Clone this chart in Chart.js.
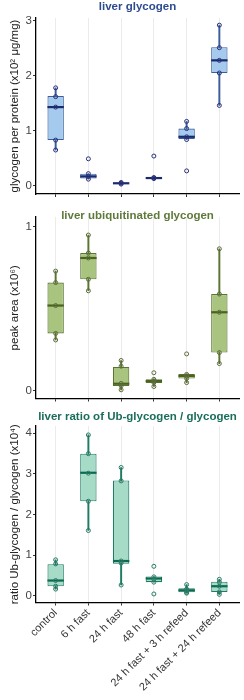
<!DOCTYPE html>
<html>
<head>
<meta charset="utf-8">
<script src="https://cdn.jsdelivr.net/npm/chart.js@4.4.1/dist/chart.umd.min.js"></script>
<style>
  body { margin: 0; background: #fff; }
  .panel { position: absolute; left: 0; width: 244px; }
</style>
</head>
<body>
<div class="panel" style="top:0"><canvas id="chart1" width="244" height="205"></canvas></div>
<div class="panel" style="top:205px"><canvas id="chart2" width="244" height="205"></canvas></div>
<div class="panel" style="top:410px"><canvas id="chart3" width="244" height="290"></canvas></div>
<script>
'use strict';
// categories along the x axis
const categories = ['control', '6 h fast', '24 h fast', '48 h fast', '24 h fast + 3 h refeed', '24 h fast + 24 h refeed'];

// liver glycogen (x10^2 ug/mg)
const glycogenLow = [0.65, 0.12, 0.03, 0.13, 0.84, 1.46];
const glycogenQ1 = [0.83, 0.13, 0.035, 0.13, 0.85, 2.05];
const glycogenMedian = [1.43, 0.17, 0.045, 0.14, 0.89, 2.28];
const glycogenQ3 = [1.63, 0.22, 0.055, 0.15, 1.04, 2.52];
const glycogenHigh = [1.78, 0.22, 0.06, 0.15, 1.17, 2.92];
const glycogenPoints = [
  [1.78, 1.62, 1.43, 0.83, 0.65],
  [0.49, 0.22, 0.17, 0.12],
  [0.06, 0.045, 0.03],
  [0.54, 0.15, 0.14, 0.13],
  [1.17, 1.04, 0.89, 0.84, 0.27],
  [2.92, 2.51, 2.28, 2.05, 1.46]
];
const glycogenTicks = [0, 1, 2, 3];

// liver ubiquitinated glycogen (x10^6)
const ubLow = [0.31, 0.61, 0.006, 0.026, 0.05, 0.166];
const ubQ1 = [0.35, 0.68, 0.03, 0.047, 0.075, 0.233];
const ubMedian = [0.52, 0.81, 0.043, 0.059, 0.091, 0.479];
const ubQ3 = [0.66, 0.84, 0.145, 0.071, 0.103, 0.59];
const ubHigh = [0.73, 0.95, 0.185, 0.071, 0.103, 0.866];
const ubPoints = [
  [0.73, 0.66, 0.52, 0.35, 0.31],
  [0.95, 0.84, 0.81, 0.68, 0.61],
  [0.185, 0.15, 0.045, 0.03, 0.006],
  [0.11, 0.07, 0.06, 0.05, 0.026],
  [0.225, 0.10, 0.09, 0.075, 0.05],
  [0.866, 0.59, 0.479, 0.233, 0.166]
];
const ubTicks = [0, 1];

// ratio Ub-glycogen / glycogen (x10^4)
const ratioLow = [0.17, 1.61, 0.27, 0.34, 0.07, 0.04];
const ratioQ1 = [0.24, 2.33, 0.79, 0.34, 0.09, 0.10];
const ratioMedian = [0.38, 3.03, 0.86, 0.43, 0.14, 0.24];
const ratioQ3 = [0.78, 3.50, 2.84, 0.48, 0.19, 0.35];
const ratioHigh = [0.89, 3.96, 3.16, 0.48, 0.28, 0.41];
const ratioPoints = [
  [0.89, 0.79, 0.38, 0.24, 0.17],
  [3.96, 3.50, 3.02, 2.33, 1.61],
  [3.16, 2.83, 0.86, 0.81, 0.27],
  [0.73, 0.47, 0.41, 0.34, 0.05],
  [0.28, 0.17, 0.13, 0.09, 0.07],
  [0.41, 0.34, 0.24, 0.10, 0.04]
];
const ratioTicks = [0, 1, 2, 3, 4];

const FONT = '"Liberation Sans", Arial, sans-serif';

// title centred over the plot area, like ggplot
const panelTitlePlugin = {
  id: 'panelTitle',
  afterDraw(chart, args, opts) {
    const ctx = chart.ctx;
    const area = chart.chartArea;
    ctx.save();
    ctx.font = 'bold 11.5px ' + FONT;
    ctx.fillStyle = opts.color;
    ctx.textAlign = 'center';
    ctx.textBaseline = 'middle';
    ctx.fillText(opts.text, (area.left + area.right) / 2, opts.y);
    ctx.restore();
  }
};

// median line on top of each box
const medianPlugin = {
  id: 'medianLine',
  afterDatasetDraw(chart, args, opts) {
    if (args.index !== 1) {
      return;
    }
    const yScale = chart.scales.y;
    const ctx = chart.ctx;
    ctx.save();
    ctx.strokeStyle = opts.color;
    ctx.lineWidth = 2.2;
    args.meta.data.forEach(function (bar, i) {
      const y = yScale.getPixelForValue(opts.values[i]);
      ctx.beginPath();
      ctx.moveTo(bar.x - bar.width / 2, y);
      ctx.lineTo(bar.x + bar.width / 2, y);
      ctx.stroke();
    });
    ctx.restore();
  }
};

function renderPanel(canvasId, p) {
  const xs = categories.map(function (c, i) { return i + 1; });
  const points = [];
  p.points.forEach(function (list, i) {
    list.forEach(function (v) { points.push({ x: i + 1, y: v }); });
  });
  const canvas = document.getElementById(canvasId);

  new Chart(canvas, {
    type: 'bar',
    data: {
      datasets: [
        {
          label: 'whisker',
          data: xs.map(function (x, i) { return { x: x, y: [p.low[i], p.high[i]] }; }),
          backgroundColor: p.line,
          barThickness: 1.3,
          grouped: false,
          order: 2
        },
        {
          label: 'box',
          data: xs.map(function (x, i) { return { x: x, y: [p.q1[i], p.q3[i]] }; }),
          backgroundColor: p.fill,
          borderColor: p.line,
          borderWidth: 1.1,
          borderSkipped: false,
          categoryPercentage: 1,
          barPercentage: 0.5,
          grouped: false,
          order: 1
        },
        {
          label: 'points',
          type: 'scatter',
          data: points,
          pointRadius: 2,
          pointBorderWidth: 1,
          borderColor: p.pointColor,
          backgroundColor: 'rgba(0,0,0,0)',
          order: 0
        }
      ]
    },
    options: {
      responsive: false,
      animation: false,
      layout: { padding: { top: p.areaTop, right: 5, left: 0, bottom: 0 } },
      plugins: {
        legend: { display: false },
        tooltip: { enabled: false },
        panelTitle: { text: p.title, color: p.titleColor, y: p.titleY },
        medianLine: { values: p.median, color: p.medianColor }
      },
      scales: {
        x: {
          type: 'linear',
          min: 0.4,
          max: 6.6,
          offset: false,
          afterBuildTicks: function (scale) {
            scale.ticks = xs.map(function (v) { return { value: v }; });
          },
          afterFit: function (scale) {
            scale.height = canvas.height - p.areaBottom;
          },
          border: { display: true, color: '#000', width: 1.3 },
          grid: { offset: false, color: '#ebebeb', lineWidth: 1, tickColor: '#333', tickLength: 3 },
          ticks: {
            display: p.showLabels,
            minRotation: 45,
            maxRotation: 45,
            autoSkip: false,
            padding: 1,
            color: '#333',
            font: { family: FONT, size: 11 },
            callback: function (value) { return categories[Math.round(value) - 1]; }
          }
        },
        y: {
          min: p.min,
          max: p.max,
          afterBuildTicks: function (scale) {
            scale.ticks = p.ticks.map(function (v) { return { value: v }; });
          },
          afterFit: function (scale) {
            scale.width = 36;
          },
          border: { display: true, color: '#000', width: 1.3 },
          grid: { drawOnChartArea: false, tickColor: '#333', tickLength: 3 },
          ticks: { padding: 1, color: '#444', font: { family: FONT, size: 11.5 } },
          title: {
            display: true,
            text: p.yTitle,
            color: '#222',
            padding: { top: 8, bottom: 0 },
            font: { family: FONT, size: 11.5 }
          }
        }
      }
    },
    plugins: [panelTitlePlugin, medianPlugin]
  });
}

renderPanel('chart1', {
  low: glycogenLow, q1: glycogenQ1, median: glycogenMedian, q3: glycogenQ3, high: glycogenHigh,
  points: glycogenPoints, ticks: glycogenTicks, min: -0.15, max: 3.05,
  title: 'liver glycogen', titleColor: '#2e4b8f', titleY: 7,
  yTitle: 'glycogen per protein (x10\u00b2 \u03bcg/mg)',
  fill: '#a4cbed', line: '#3a5d9c', medianColor: '#1a2a6c', pointColor: '#2a2f7a',
  areaTop: 18, areaBottom: 194, showLabels: false
});

renderPanel('chart2', {
  low: ubLow, q1: ubQ1, median: ubMedian, q3: ubQ3, high: ubHigh,
  points: ubPoints, ticks: ubTicks, min: -0.047, max: 1.06,
  title: 'liver ubiquitinated glycogen', titleColor: '#5e7a3a', titleY: 10.5,
  yTitle: 'peak area (x10\u2076)',
  fill: '#a8c47e', line: '#5a7530', medianColor: '#4a6420', pointColor: '#5c6b3c',
  areaTop: 12, areaBottom: 193.5, showLabels: false
});

renderPanel('chart3', {
  low: ratioLow, q1: ratioQ1, median: ratioMedian, q3: ratioQ3, high: ratioHigh,
  points: ratioPoints, ticks: ratioTicks, min: -0.16, max: 4.18,
  title: 'liver ratio of Ub-glycogen / glycogen', titleColor: '#1a6e5a', titleY: 7,
  yTitle: 'ratio Ub-glycogen / glycogen (x10\u2074)',
  fill: '#a6dbc7', line: '#1f7c64', medianColor: '#0d6a50', pointColor: '#2a7a66',
  areaTop: 16, areaBottom: 192.5, showLabels: true
});
</script>
</body>
</html>
